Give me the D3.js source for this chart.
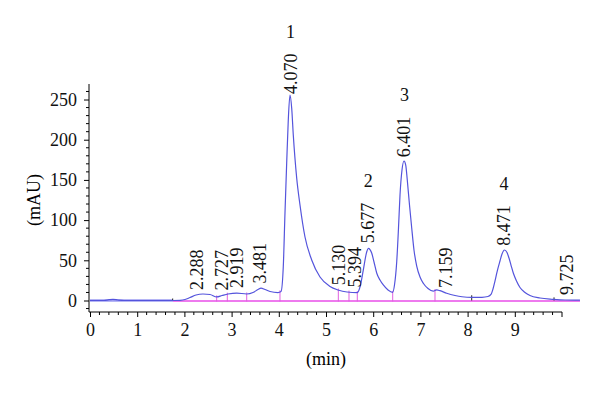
<!DOCTYPE html>
<html><head><meta charset="utf-8">
<script src="https://cdn.jsdelivr.net/npm/d3@7"></script>
<style>html,body{margin:0;padding:0;background:#fff;}svg{display:block;}</style>
</head><body><svg id="c" width="600" height="393"></svg>
<script>
// chromatogram trace: time (axis min) and absorbance (mAU)
const traceTime = [0,0.297,0.403,0.487,0.593,0.720,1.758,1.907,2.013,2.119,2.246,2.394,2.542,2.684,2.797,2.924,3.108,3.320,3.453,3.559,3.623,3.708,3.814,3.983,4.047,4.095,4.131,4.167,4.201,4.237,4.273,4.307,4.379,4.449,4.555,4.697,4.873,5.085,5.254,5.445,5.663,5.731,5.790,5.862,5.896,5.932,5.968,6.017,6.074,6.144,6.214,6.314,6.413,6.451,6.498,6.536,6.568,6.610,6.653,6.689,6.722,6.769,6.816,6.864,6.922,6.992,7.061,7.161,7.273,7.345,7.415,7.557,7.733,7.881,8.093,8.305,8.432,8.496,8.538,8.581,8.623,8.686,8.729,8.782,8.835,8.877,8.919,8.968,9.036,9.110,9.216,9.322,9.534,9.809,10.064,10.381];
const traceMAU = [0,0,1.0,1.5,0.6,0,0,0.2,1.2,3.7,6.8,8.1,7.5,4.4,6.2,8.1,9.3,8.1,9.9,13.7,15.5,13.7,11.2,9.9,11.2,42.0,108.8,171.0,224.5,255.6,239.4,205.8,152.4,118.8,79.0,50.4,29.2,17.4,13.1,10.6,9.9,19.3,37.9,60.3,64.9,63.4,59.1,47.9,34.2,25.5,19.3,13.1,10.2,19.3,47.9,90.2,131.2,162.3,173.5,168.5,149.9,118.8,90.2,62.8,42.9,29.2,21.4,14.9,11.6,13.1,12.2,9.0,6.2,4.7,4.0,4.0,5.0,7.5,14.3,24.3,35.4,49.1,57.8,62.8,59.7,52.8,44.1,34.2,24.3,16.2,10.0,6.2,3.1,1.5,0.6,0.4];
// integration baseline
const baselineStart = 1.758, baselineEnd = 10.381;
// integration event marks
const pinkMarks = [2.684,2.909,3.320,4.025,5.261,5.487,5.663,6.413,7.309];
const blackMarks = [1.752,8.087,9.831];
// peak labels: text and position on the time axis
const peakLabels = ["2.288","2.727","2.919","3.481","4.070","5.130","5.394","5.677","6.401","7.159","8.471","9.725"];
const peakLabelAt = [2.261,2.790,3.108,3.602,4.248,5.275,5.614,5.896,6.663,7.542,8.771,10.10];
const peakNumbers = ["1","2","3","4"];
const peakNumberOf = [4,7,8,10]; // index into peakLabels
// axes
const xTicks = [0,1,2,3,4,5,6,7,8,9];
const yTicks = [0,50,100,150,200,250];
const xTitle = "(min)", yTitle = "(mAU)";

const svg = d3.select("#c");
const FONT = "'Liberation Serif','DejaVu Serif',serif";
const x = d3.scaleLinear().domain([0,10]).range([90,562]);
const y = d3.scaleLinear().domain([-14.3,269.3]).range([312,84]);
const data = traceTime.map((t,i)=>[t,traceMAU[i]]);
const interp = t => {
  for (let i=1;i<data.length;i++) if (data[i][0]>=t){
    const a=data[i-1],b=data[i]; return a[1]+(b[1]-a[1])*(t-a[0])/(b[0]-a[0]);
  }
  return 0;
};

// axes
const xAxis = d3.axisBottom(x).tickValues(xTicks).tickSize(5).tickPadding(6).tickFormat(d3.format("d"));
const gx = svg.append("g").attr("transform","translate(0,312)").call(xAxis);
gx.select(".domain").attr("d","M89,0H562");
const xMinor = d3.range(0,10.01,0.2).filter(v=>Math.abs(v-Math.round(v))>1e-6);
gx.selectAll(".minor").data(xMinor).enter().append("line").attr("x1",d=>x(d)).attr("x2",d=>x(d)).attr("y1",0).attr("y2",3).attr("stroke","#000");
gx.append("line").attr("x1",x(10)).attr("x2",x(10)).attr("y1",0).attr("y2",5).attr("stroke","#000");
const yAxis = d3.axisLeft(y).tickValues(yTicks).tickSize(5).tickPadding(7);
const gy = svg.append("g").attr("transform","translate(89,0)").call(yAxis);
gy.select(".domain").attr("d","M0,84V312");
const yMinor = d3.range(-10,261,10).filter(v=>v%50!==0);
gy.selectAll(".minor").data(yMinor).enter().append("line").attr("x1",-3).attr("x2",0).attr("y1",d=>y(d)).attr("y2",d=>y(d)).attr("stroke","#000");
svg.selectAll(".tick text").attr("font-family",FONT).attr("font-size",18).attr("fill","#111");
svg.selectAll(".tick line, .domain").attr("stroke","#000");

svg.append("text").attr("x",326).attr("y",365).attr("text-anchor","middle").attr("font-family",FONT).attr("font-size",18).text(xTitle);
svg.append("text").attr("transform","translate(40,200) rotate(-90)").attr("text-anchor","middle").attr("font-family",FONT).attr("font-size",18).text(yTitle);

// baselines
svg.append("line").attr("x1",x(0)).attr("x2",x(baselineStart)).attr("y1",y(0)).attr("y2",y(0)).attr("stroke","#9c9cf2").attr("stroke-width",2.5);
svg.append("line").attr("x1",x(baselineStart)).attr("x2",x(baselineEnd)).attr("y1",y(0)+0.5).attr("y2",y(0)+0.5).attr("stroke","#ee7aee").attr("stroke-width",2);
// marks
svg.selectAll(".pm").data(pinkMarks).enter().append("line").attr("x1",d=>x(d)).attr("x2",d=>x(d)).attr("y1",y(0)+1).attr("y2",d=>y(interp(d))-1.5).attr("stroke","#e060e0").attr("stroke-width",1);
svg.selectAll(".bm").data(blackMarks).enter().append("line").attr("x1",d=>x(d)).attr("x2",d=>x(d)).attr("y1",y(0)).attr("y2",d=>y(interp(d))-2).attr("stroke","#222").attr("stroke-width",1);
// trace
svg.append("path").datum(data).attr("d",d3.line().x(d=>x(d[0])).y(d=>y(d[1])).curve(d3.curveMonotoneX)).attr("fill","none").attr("stroke","#5454dc").attr("stroke-width",1.2);

// peak labels
const labelTop = [];
peakLabels.forEach((s,i)=>{
  const t = peakLabelAt[i];
  const yb = y(interp(t)) - 5;
  svg.append("text").attr("transform",`translate(${x(t)+6},${yb}) rotate(-90)`).attr("font-family",FONT).attr("font-size",18).attr("fill","#111").text(s);
  labelTop.push(yb - 43);
});
peakNumbers.forEach((s,j)=>{
  const i = peakNumberOf[j];
  svg.append("text").attr("x",x(peakLabelAt[i])).attr("y",labelTop[i]-13).attr("text-anchor","middle").attr("font-family",FONT).attr("font-size",18).attr("fill","#111").text(s);
});
</script></body></html>
